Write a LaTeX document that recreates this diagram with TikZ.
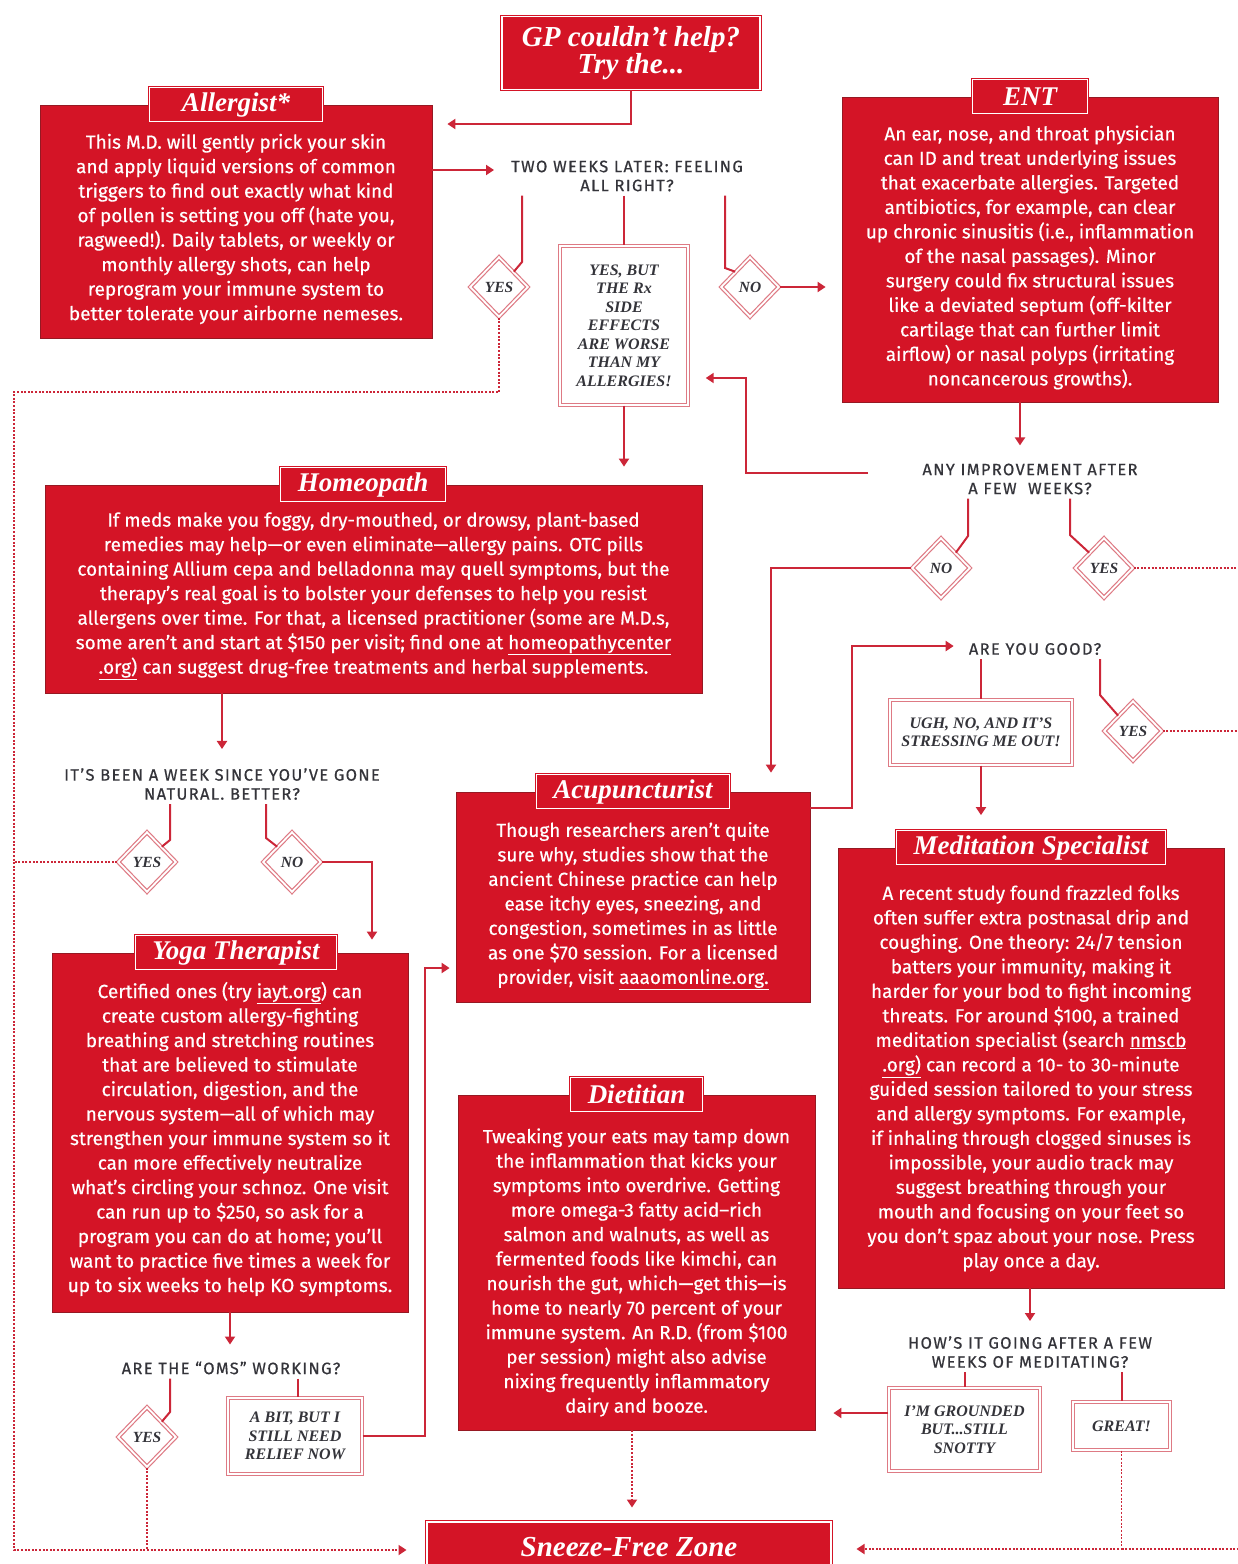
\documentclass[tikz,border=0pt]{standalone}
\usepackage{fontspec}
\setmainfont{Liberation Serif}
\newfontfamily\bodyfont[FakeBold=0.5]{Fira Sans}
\newfontfamily\askfont[LetterSpace=8,FakeBold=0.6]{Fira Sans}
\newfontfamily\headfont{Liberation Serif}
\usepackage{tikz}
\usetikzlibrary{arrows.meta,shapes.geometric,calc,positioning}
\definecolor{cardred}{RGB}{212,20,38}
\definecolor{cardedge}{RGB}{150,25,35}
\definecolor{linkred}{RGB}{204,38,56}
\definecolor{rimpink}{RGB}{222,122,132}
\definecolor{inkgray}{RGB}{52,52,58}
\tikzstyle{card}=[rectangle,fill=cardred,draw=cardedge,line width=0.8pt,inner sep=0]
\tikzstyle{bodytext}=[text=white,align=center,inner sep=0,font={\bodyfont\fontsize{19}{24.5}\selectfont}]
\tikzstyle{titletab}=[rectangle,fill=cardred,draw=cardred,double=white,line width=1pt,double distance=1.2pt,
                text=white,inner xsep=17pt,inner ysep=0,minimum height=34pt,minimum width=115pt,
                font={\headfont\bfseries\itshape\fontsize{27}{28}\selectfont}]
\tikzstyle{ask}=[text=inkgray,align=center,inner sep=4pt,font={\askfont\fontsize{16.5}{19}\selectfont}]
\tikzstyle{reply}=[rectangle,fill=white,draw=rimpink,double=white,line width=1.4pt,double distance=2pt,
                text=inkgray,align=center,inner sep=0,font={\headfont\bfseries\itshape\fontsize{16}{18.5}\selectfont}]
\tikzstyle{choice}=[diamond,fill=white,draw=rimpink,double=white,line width=1.2pt,double distance=1.8pt,
                minimum width=58pt,minimum height=60pt,inner sep=0,text=inkgray,
                font={\headfont\bfseries\itshape\fontsize{15.5}{16}\selectfont}]
\tikzstyle{link}=[draw=linkred,line width=2pt,>={Triangle[width=10pt,length=8pt]}]
\tikzstyle{dotlink}=[link,line width=1.8pt,dash pattern=on 2pt off 1.6pt]

\begin{document}
\begin{tikzpicture}[x=1pt,y=-1pt]
\useasboundingbox (0,0) rectangle (1238,1564);
\clip (0,0) rectangle (1238,1564);
\coordinate (rail) at (14,0);
\coordinate (rim) at (1242,0);

\node[titletab,align=center,minimum width=258pt,minimum height=73pt,
      font={\headfont\bfseries\itshape\fontsize{29}{27}\selectfont}] (gp) at (631,53) {GP couldn’t help?\\Try the...};

\node[card,minimum width=392pt,minimum height=233pt] (allergist) at (236,221.5) {};
\node[titletab,minimum width=173pt] (allergist-tab) at (allergist.north) {Allergist*};
\node[bodytext] (allergist-txt) at (236,229) {This M.D. will gently prick your skin\\
and apply liquid versions of common\\ triggers to find out exactly what kind\\
of pollen is setting you off (hate you,\\ ragweed!). Daily tablets, or weekly or\\
monthly allergy shots, can help\\ reprogram your immune system to\\
better tolerate your airborne nemeses.};

\node[card,minimum width=376pt,minimum height=305pt] (ent) at (1030,249.5) {};
\node[titletab] (ent-tab) at (ent.north) {ENT};
\node[bodytext] (ent-txt) at (1030,257.5) {An ear, nose, and throat physician\\
can ID and treat underlying issues\\ that exacerbate allergies. Targeted\\
antibiotics, for example, can clear\\ up chronic sinusitis (i.e., inflammation\\
of the nasal passages). Minor\\ surgery could fix structural issues\\
like a deviated septum (off-kilter\\ cartilage that can further limit\\
airflow) or nasal polyps (irritating\\ noncancerous growths).};

\node[card,minimum width=657pt,minimum height=208pt] (homeopath) at (373.5,589) {};
\node[titletab] (homeopath-tab) at (homeopath.north -| 363,0) {Homeopath};
\node[bodytext] (homeopath-txt) at (373.5,596) {If meds make you foggy, dry-mouthed, or drowsy, plant-based\\
remedies may help—or even eliminate—allergy pains. OTC pills\\
containing Allium cepa and belladonna may quell symptoms, but the\\
therapy’s real goal is to bolster your defenses to help you resist\\
allergens over time. For that, a licensed practitioner (some are M.D.s,\\
some aren’t and start at \$150 per visit; find one at \underline{homeopathycenter}\\
\underline{.org)} can suggest drug-free treatments and herbal supplements.};

\node[card,minimum width=354pt,minimum height=210pt] (acup) at (633,897) {};
\node[titletab] (acup-tab) at (acup.north) {Acupuncturist};
\node[bodytext] (acup-txt) at (633,906) {Though researchers aren’t quite\\
sure why, studies show that the\\ ancient Chinese practice can help\\
ease itchy eyes, sneezing, and\\ congestion, sometimes in as little\\
as one \$70 session. For a licensed\\ provider, visit \underline{aaaomonline.org.}};

\node[card,minimum width=386pt,minimum height=440pt] (med) at (1031,1068) {};
\node[titletab] (med-tab) at (med.north) {Meditation Specialist};
\node[bodytext] (med-txt) at (1031,1078.5) {A recent study found frazzled folks\\
often suffer extra postnasal drip and\\ coughing. One theory: 24/7 tension\\
batters your immunity, making it\\ harder for your bod to fight incoming\\
threats. For around \$100, a trained\\ meditation specialist (search \underline{nmscb}\\
\underline{.org)} can record a 10- to 30-minute\\ guided session tailored to your stress\\
and allergy symptoms. For example,\\ if inhaling through clogged sinuses is\\
impossible, your audio track may\\ suggest breathing through your\\
mouth and focusing on your feet so\\ you don’t spaz about your nose. Press\\
play once a day.};

\node[card,minimum width=356pt,minimum height=359pt] (yoga) at (230,1132.5) {};
\node[titletab] (yoga-tab) at (yoga.north -| 236,0) {Yoga Therapist};
\node[bodytext] (yoga-txt) at (230,1139) {Certified ones (try \underline{iayt.org}) can\\
create custom allergy-fighting\\ breathing and stretching routines\\
that are believed to stimulate\\ circulation, digestion, and the\\
nervous system—all of which may\\ strengthen your immune system so it\\
can more effectively neutralize\\ what’s circling your schnoz. One visit\\
can run up to \$250, so ask for a\\ program you can do at home; you’ll\\
want to practice five times a week for\\ up to six weeks to help KO symptoms.};

\node[card,minimum width=357pt,minimum height=335pt] (diet) at (636.5,1262.5) {};
\node[titletab] (diet-tab) at (diet.north) {Dietitian};
\node[bodytext] (diet-txt) at (636.5,1272.5) {Tweaking your eats may tamp down\\
the inflammation that kicks your\\ symptoms into overdrive. Getting\\
more omega-3 fatty acid–rich\\ salmon and walnuts, as well as\\
fermented foods like kimchi, can\\ nourish the gut, which—get this—is\\
home to nearly 70 percent of your\\ immune system. An R.D. (from \$100\\
per session) might also advise\\ nixing frequently inflammatory\\ dairy and booze.};

\node[titletab,minimum width=404pt,minimum height=50pt,
      font={\headfont\bfseries\itshape\fontsize{29}{30}\selectfont}] (sneeze) at (629,1547) {Sneeze-Free Zone};

\node[ask] (q-two) at (627,176) {TWO WEEKS LATER: FEELING\\ALL RIGHT?};
\node[ask] (q-any) at (1030,479) {ANY IMPROVEMENT AFTER\\A FEW\ \ WEEKS?};
\node[ask] (q-good) at (1035,649) {ARE YOU GOOD?};
\node[ask] (q-how) at (1030,1352) {HOW’S IT GOING AFTER A FEW\\WEEKS OF MEDITATING?};
\node[ask] (q-week) at (222,784) {IT’S BEEN A WEEK SINCE YOU’VE GONE\\NATURAL. BETTER?};
\node[ask] (q-oms) at (231,1368) {ARE THE “OMS” WORKING?};

\node[reply,minimum width=128pt,minimum height=159pt] (yesbut) at (624,325.5) {YES, BUT\\THE Rx\\SIDE\\EFFECTS\\ARE WORSE\\THAN MY\\ALLERGIES!};
\node[reply,minimum width=182pt,minimum height=65pt] (ugh) at (981,732.5) {UGH, NO, AND IT’S\\STRESSING ME OUT!};
\node[reply,minimum width=151pt,minimum height=83pt] (grounded) at (964.5,1429.5) {I’M GROUNDED\\BUT...STILL\\SNOTTY};
\node[reply,minimum width=97pt,minimum height=48pt] (great) at (1121.5,1426) {GREAT!};
\node[reply,minimum width=134pt,minimum height=76pt] (abit) at (295,1436) {A BIT, BUT I\\STILL NEED\\RELIEF NOW};

\node[choice] (d-yes1) at (499,287) {YES};
\node[choice] (d-no1) at (750,287) {NO};
\node[choice] (d-no2) at (941,568) {NO};
\node[choice] (d-yes2) at (1104,568) {YES};
\node[choice] (d-yes3) at (1133,731) {YES};
\node[choice] (d-yes4) at (147,862) {YES};
\node[choice] (d-no4) at (292,862) {NO};
\node[choice] (d-yes5) at (147,1437) {YES};

\draw[link,->,shorten >=15pt] (gp.south) |- (allergist.east |- 0,124);
\draw[link,->,shorten >=13pt] (allergist.east |- 0,170) -- (q-two.west |- 0,170);
\draw[link] (q-two.south -| 522,0) -- (522,262) -- (d-yes1.north east);
\draw[link] (yesbut.north |- q-two.south) -- (yesbut.north);
\draw[link] (q-two.south -| 725,0) -- (725,268) -- (d-no1.north west);
\draw[link,->,shorten >=16pt] (d-no1.east) -- (d-no1.east -| ent.west);
\draw[link,->,shorten >=18pt] (yesbut.south) -- (yesbut.south |- homeopath.north);
\draw[dotlink,->,shorten >=20pt] (d-yes1.south) |- (rail |- 0,392) -- (rail |- 0,1550) -- (sneeze.west |- 0,1550);

\draw[link,->,shorten >=14pt] (ent.south -| 1020,0) -- (q-any.north -| 1020,0);
\draw[link,->,shorten >=17pt] ([xshift=-50pt,yshift=6pt]q-any.west) -| (746,378) -- (yesbut.east |- 0,378);
\draw[link] (q-any.south -| 968,0) -- (968,536) -- (d-no2.north east);
\draw[link] (q-any.south -| 1070,0) -- (1070,535) -- (d-yes2.north west);
\draw[link,->,shorten >=19pt] (d-no2.west) -| (acup.north -| 771,0);
\draw[dotlink] (d-yes2.east) -- (d-yes2.east -| rim);

\draw[link,->,shorten >=11pt] (acup.east |- 0,808) -| (852,646) -- (q-good.west |- 0,646);
\draw[link] (q-good.south -| ugh.north) -- (ugh.north);
\draw[link] (q-good.south -| 1100,0) -- (1100,695) -- (d-yes3.north west);
\draw[dotlink] (d-yes3.east) -- (d-yes3.east -| rim);
\draw[link,->,shorten >=15pt] (ugh.south) -- (ugh.south |- med-tab.north);

\draw[link,->,shorten >=11pt] (med.south -| 1030,0) -- (q-how.north -| 1030,0);
\draw[link] (q-how.south -| grounded.north) -- (grounded.north);
\draw[link] (q-how.south -| great.north) -- (great.north);
\draw[link,->,shorten >=18pt] (grounded.west |- 0,1413) -- (diet.east |- 0,1413);
\draw[dotlink,->,shorten >=25pt] (great.south) |- (sneeze.east |- 0,1549);
\draw[dotlink] (great.south |- 0,1549) -- (rim |- 0,1549);

\draw[link,->,shorten >=15pt] (homeopath.south -| 222,0) -- (q-week.north -| 222,0);
\draw[link] (q-week.south -| 170,0) -- (170,840) -- (d-yes4.north east);
\draw[link] (q-week.south -| 266,0) -- (266,838) -- (d-no4.north west);
\draw[dotlink] (d-yes4.west) -- (d-yes4.west -| rail);
\draw[link,->,shorten >=13pt] (d-no4.east) -| (yoga.north -| 372,0);

\draw[link,->,shorten >=13pt] (yoga.south -| 230,0) -- (q-oms.north -| 230,0);
\draw[link] (q-oms.south -| 170,0) -- (170,1412) -- (d-yes5.north east);
\draw[link] (q-oms.south -| 298,0) -- (abit.north -| 298,0);
\draw[link,->,shorten >=6pt] (abit.east) -| (425,968) -- (acup.west |- 0,968);
\draw[dotlink] (d-yes5.south) -- (d-yes5.south |- 0,1550);

\draw[dotlink,->,shorten >=14pt] (diet.south -| 632,0) -- (sneeze.north -| 632,0);
\end{tikzpicture}
\end{document}
